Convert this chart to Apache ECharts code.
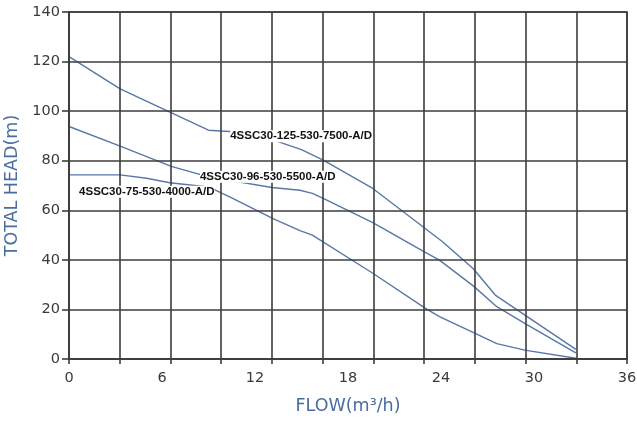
<!DOCTYPE html>
<html>
<head>
<meta charset="utf-8">
<script src="https://cdn.jsdelivr.net/npm/echarts@6/dist/echarts.min.js"></script>
<style>
html,body{margin:0;padding:0;background:#fff;}
#chart{width:637px;height:423px;}
</style>
</head>
<body>
<div id="chart"></div>
<script>
// Flow tick labels (m³/h) and head ticks (m)
const flowLabels = [0, 6, 12, 18, 24, 30, 36];
const headLabels = [0, 20, 40, 60, 80, 100, 120, 140];

// Curve names
const names = ['4SSC30-125-530-7500-A/D', '4SSC30-96-530-5500-A/D', '4SSC30-75-530-4000-A/D'];

// [flow, head] points
const curve7500 = [[0,122],[3.3,109],[9,92.3],[10.6,91.7],[13.1,88.5],[15,84.5],[16.4,80.2],[19.6,68.8],[24.1,47.3],[26.1,36.3],[27.5,25.8],[32.7,3.9]];
const curve5500 = [[0,93.8],[3.3,85.9],[6.6,77.7],[9,73.5],[13.1,69.2],[14.9,68.1],[15.7,66.8],[16.4,64.8],[19.6,55],[22.9,43.3],[23.9,39.9],[26.1,29.4],[27.6,21.1],[29.4,14.4],[32.7,2.5]];
const curve4000 = [[0,74.3],[3.3,74.3],[5,72.9],[6.5,71.1],[9,69.4],[10.4,65.3],[13.2,56.5],[14.9,51.8],[15.7,50],[19.6,34.6],[23,20.4],[23.9,17.1],[26.1,10.6],[27.6,6.2],[29.4,3.6],[32.7,0.3]];

const gridColor = '#3d3d3d';
const curveColor = '#5877a8';
const labelColor = '#3a3a3a';
const titleColor = '#4a6da0';

function curve(name, data, labelCoord) {
  return {
    name: name,
    type: 'line',
    data: data,
    xAxisIndex: 0,
    yAxisIndex: 0,
    symbol: 'none',
    z: 2,
    lineStyle: { color: curveColor, width: 1.4 },
    markPoint: {
      symbol: 'circle',
      symbolSize: 0,
      silent: true,
      data: [{ coord: labelCoord, value: name }],
      label: {
        show: true,
        position: 'right',
        distance: 0,
        formatter: name,
        color: '#111',
        fontFamily: 'Liberation Sans, Arial, sans-serif',
        fontWeight: 'bold',
        fontSize: 11.5,
        backgroundColor: '#fff',
        padding: [0, 0, 0, 0]
      }
    }
  };
}

const chart = echarts.init(document.getElementById('chart'), null, { renderer: 'canvas' });
chart.setOption({
  animation: false,
  backgroundColor: '#fff',
  grid: { left: 69, right: 10, top: 12, bottom: 64, outerBoundsMode: 'none', containLabel: false, show: true, borderColor: gridColor, borderWidth: 1.6, backgroundColor: 'transparent' },
  xAxis: [
    {
      type: 'value', min: flowLabels[0], max: flowLabels[flowLabels.length - 1], interval: 6,
      position: 'bottom',
      name: 'FLOW(m³/h)', nameLocation: 'middle', nameGap: 38,
      nameTextStyle: { color: titleColor, fontFamily: 'DejaVu Sans', fontSize: 17.5 },
      axisLine: { show: false }, axisTick: { show: false }, splitLine: { show: false },
      axisLabel: { color: labelColor, fontFamily: 'DejaVu Sans', fontSize: 14.5, margin: 12 }
    },
    {
      type: 'value', min: 0, max: 11, interval: 1,
      position: 'bottom', z: 3,
      axisLine: { show: true, lineStyle: { color: gridColor, width: 1.6 } },
      axisTick: { show: true, inside: false, length: 5, lineStyle: { color: gridColor, width: 1.6 } },
      axisLabel: { show: false },
      splitLine: { show: true, lineStyle: { color: gridColor, width: 1.6 } }
    }
  ],
  yAxis: {
    type: 'value', min: headLabels[0], max: headLabels[headLabels.length - 1], interval: 20, z: 3,
    name: 'TOTAL HEAD(m)', nameLocation: 'middle', nameGap: 48,
    nameTextStyle: { color: titleColor, fontFamily: 'DejaVu Sans', fontSize: 17.5 },
    axisLine: { show: true, lineStyle: { color: gridColor, width: 1.6 } },
    axisTick: { show: true, inside: false, length: 7, lineStyle: { color: gridColor, width: 1.6 } },
    axisLabel: { color: labelColor, fontFamily: 'DejaVu Sans', fontSize: 14.5, margin: 9 },
    splitLine: { show: true, lineStyle: { color: gridColor, width: 1.6 } }
  },
  series: [
    curve(names[0], curve7500, [10.4, 89.9]),
    curve(names[1], curve5500, [8.45, 73.5]),
    curve(names[2], curve4000, [0.65, 67.5])
  ]
});
</script>
</body>
</html>
